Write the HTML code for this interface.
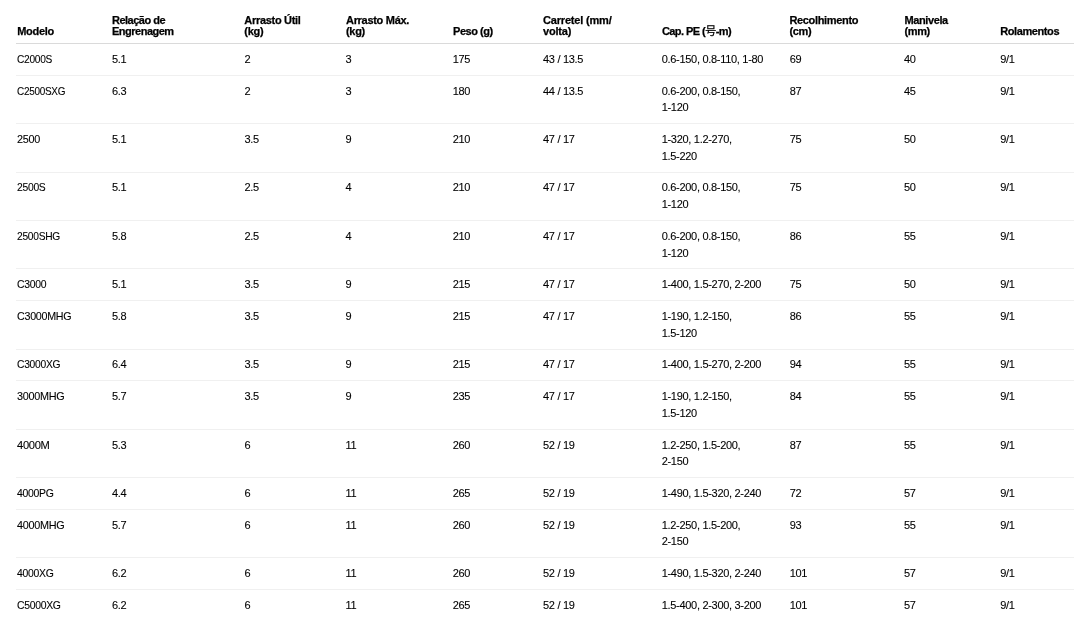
<!DOCTYPE html>
<html lang="pt"><head><meta charset="utf-8"><title>Especificações</title>
<style>
html,body{margin:0;padding:0;background:#fff;}
body{width:1074px;height:620px;overflow:hidden;position:relative;font-family:"Liberation Sans","Noto Sans CJK KR",sans-serif;color:#000;}
.t{position:absolute;left:0;top:0;width:1074px;height:620px;transform:translateZ(0);}
.hl{position:absolute;left:16px;right:0;height:1px;background:#dadada;}
.rl{position:absolute;left:16px;right:0;height:1px;background:#f0f0f0;}
.h{position:absolute;font-size:11px;font-weight:bold;line-height:11px;white-space:nowrap;color:#000;-webkit-text-stroke:0.25px #000;}
.c{position:absolute;font-size:11px;line-height:16px;white-space:nowrap;letter-spacing:-0.3px;-webkit-text-stroke:0.1px #000;}
.c.l2{line-height:17px;}
.s{display:inline-block;transform-origin:0 0;}
.cjk{font-weight:normal;}
</style></head><body>
<div class="t" role="table">
<div class="h" role="columnheader" style="left:17.2px;top:26px;letter-spacing:-0.3px">Modelo</div>
<div class="h" role="columnheader" style="left:112px;top:15px;letter-spacing:-0.5px">Relação de<br>Engrenagem</div>
<div class="h" role="columnheader" style="left:244.3px;top:15px;letter-spacing:-0.3px">Arrasto Útil<br>(kg)</div>
<div class="h" role="columnheader" style="left:346px;top:15px;letter-spacing:-0.3px">Arrasto Máx.<br>(kg)</div>
<div class="h" role="columnheader" style="left:453px;top:26px;letter-spacing:-0.45px">Peso (g)</div>
<div class="h" role="columnheader" style="left:543px;top:15px;letter-spacing:-0.18px">Carretel (mm/<br>volta)</div>
<div class="h" role="columnheader" style="left:661.9px;top:26px;letter-spacing:-0.55px">Cap. PE (<span class="cjk">号</span>-m)</div>
<div class="h" role="columnheader" style="left:789.4px;top:15px;letter-spacing:-0.33px">Recolhimento<br>(cm)</div>
<div class="h" role="columnheader" style="left:904.5px;top:15px;letter-spacing:-0.4px">Manivela<br>(mm)</div>
<div class="h" role="columnheader" style="left:1000.2px;top:26px;letter-spacing:-0.4px">Rolamentos</div>
<div class="hl" style="top:43px"></div>
<div class="c" role="cell" style="left:17.1px;top:51px"><span class="s" style="transform:scaleX(0.925)">C2000S</span></div>
<div class="c" role="cell" style="left:111.9px;top:51px">5.1</div>
<div class="c" role="cell" style="left:244.4px;top:51px">2</div>
<div class="c" role="cell" style="left:345.4px;top:51px">3</div>
<div class="c" role="cell" style="left:452.7px;top:51px">175</div>
<div class="c" role="cell" style="left:543px;top:51px">43 / 13.5</div>
<div class="c" role="cell" style="left:661.7px;top:51px">0.6-150, 0.8-110, 1-80</div>
<div class="c" role="cell" style="left:789.7px;top:51px">69</div>
<div class="c" role="cell" style="left:904px;top:51px">40</div>
<div class="c" role="cell" style="left:1000.3px;top:51px">9/1</div>
<div class="rl" style="top:75px"></div>
<div class="c" role="cell" style="left:17.1px;top:83px"><span class="s" style="transform:scaleX(0.905)">C2500SXG</span></div>
<div class="c" role="cell" style="left:111.9px;top:83px">6.3</div>
<div class="c" role="cell" style="left:244.4px;top:83px">2</div>
<div class="c" role="cell" style="left:345.4px;top:83px">3</div>
<div class="c" role="cell" style="left:452.7px;top:83px">180</div>
<div class="c" role="cell" style="left:543px;top:83px">44 / 13.5</div>
<div class="c" role="cell" style="left:661.7px;top:83px">0.6-200, 0.8-150,<br>1-120</div>
<div class="c" role="cell" style="left:789.7px;top:83px">87</div>
<div class="c" role="cell" style="left:904px;top:83px">45</div>
<div class="c" role="cell" style="left:1000.3px;top:83px">9/1</div>
<div class="rl" style="top:123px"></div>
<div class="c" role="cell" style="left:17.1px;top:131px"><span class="s" style="transform:scaleX(0.985)">2500</span></div>
<div class="c" role="cell" style="left:111.9px;top:131px">5.1</div>
<div class="c" role="cell" style="left:244.4px;top:131px">3.5</div>
<div class="c" role="cell" style="left:345.4px;top:131px">9</div>
<div class="c" role="cell" style="left:452.7px;top:131px">210</div>
<div class="c" role="cell" style="left:543px;top:131px">47 / 17</div>
<div class="c l2" role="cell" style="left:661.7px;top:131px">1-320, 1.2-270,<br>1.5-220</div>
<div class="c" role="cell" style="left:789.7px;top:131px">75</div>
<div class="c" role="cell" style="left:904px;top:131px">50</div>
<div class="c" role="cell" style="left:1000.3px;top:131px">9/1</div>
<div class="rl" style="top:172px"></div>
<div class="c" role="cell" style="left:17.1px;top:179px"><span class="s" style="transform:scaleX(0.94)">2500S</span></div>
<div class="c" role="cell" style="left:111.9px;top:179px">5.1</div>
<div class="c" role="cell" style="left:244.4px;top:179px">2.5</div>
<div class="c" role="cell" style="left:345.4px;top:179px">4</div>
<div class="c" role="cell" style="left:452.7px;top:179px">210</div>
<div class="c" role="cell" style="left:543px;top:179px">47 / 17</div>
<div class="c l2" role="cell" style="left:661.7px;top:179px">0.6-200, 0.8-150,<br>1-120</div>
<div class="c" role="cell" style="left:789.7px;top:179px">75</div>
<div class="c" role="cell" style="left:904px;top:179px">50</div>
<div class="c" role="cell" style="left:1000.3px;top:179px">9/1</div>
<div class="rl" style="top:220px"></div>
<div class="c" role="cell" style="left:17.1px;top:228px"><span class="s" style="transform:scaleX(0.93)">2500SHG</span></div>
<div class="c" role="cell" style="left:111.9px;top:228px">5.8</div>
<div class="c" role="cell" style="left:244.4px;top:228px">2.5</div>
<div class="c" role="cell" style="left:345.4px;top:228px">4</div>
<div class="c" role="cell" style="left:452.7px;top:228px">210</div>
<div class="c" role="cell" style="left:543px;top:228px">47 / 17</div>
<div class="c l2" role="cell" style="left:661.7px;top:228px">0.6-200, 0.8-150,<br>1-120</div>
<div class="c" role="cell" style="left:789.7px;top:228px">86</div>
<div class="c" role="cell" style="left:904px;top:228px">55</div>
<div class="c" role="cell" style="left:1000.3px;top:228px">9/1</div>
<div class="rl" style="top:268px"></div>
<div class="c" role="cell" style="left:17.1px;top:276px"><span class="s" style="transform:scaleX(0.945)">C3000</span></div>
<div class="c" role="cell" style="left:111.9px;top:276px">5.1</div>
<div class="c" role="cell" style="left:244.4px;top:276px">3.5</div>
<div class="c" role="cell" style="left:345.4px;top:276px">9</div>
<div class="c" role="cell" style="left:452.7px;top:276px">215</div>
<div class="c" role="cell" style="left:543px;top:276px">47 / 17</div>
<div class="c" role="cell" style="left:661.7px;top:276px">1-400, 1.5-270, 2-200</div>
<div class="c" role="cell" style="left:789.7px;top:276px">75</div>
<div class="c" role="cell" style="left:904px;top:276px">50</div>
<div class="c" role="cell" style="left:1000.3px;top:276px">9/1</div>
<div class="rl" style="top:300px"></div>
<div class="c" role="cell" style="left:17.1px;top:308px"><span class="s" style="transform:scaleX(0.975)">C3000MHG</span></div>
<div class="c" role="cell" style="left:111.9px;top:308px">5.8</div>
<div class="c" role="cell" style="left:244.4px;top:308px">3.5</div>
<div class="c" role="cell" style="left:345.4px;top:308px">9</div>
<div class="c" role="cell" style="left:452.7px;top:308px">215</div>
<div class="c" role="cell" style="left:543px;top:308px">47 / 17</div>
<div class="c l2" role="cell" style="left:661.7px;top:308px">1-190, 1.2-150,<br>1.5-120</div>
<div class="c" role="cell" style="left:789.7px;top:308px">86</div>
<div class="c" role="cell" style="left:904px;top:308px">55</div>
<div class="c" role="cell" style="left:1000.3px;top:308px">9/1</div>
<div class="rl" style="top:349px"></div>
<div class="c" role="cell" style="left:17.1px;top:356px"><span class="s" style="transform:scaleX(0.935)">C3000XG</span></div>
<div class="c" role="cell" style="left:111.9px;top:356px">6.4</div>
<div class="c" role="cell" style="left:244.4px;top:356px">3.5</div>
<div class="c" role="cell" style="left:345.4px;top:356px">9</div>
<div class="c" role="cell" style="left:452.7px;top:356px">215</div>
<div class="c" role="cell" style="left:543px;top:356px">47 / 17</div>
<div class="c" role="cell" style="left:661.7px;top:356px">1-400, 1.5-270, 2-200</div>
<div class="c" role="cell" style="left:789.7px;top:356px">94</div>
<div class="c" role="cell" style="left:904px;top:356px">55</div>
<div class="c" role="cell" style="left:1000.3px;top:356px">9/1</div>
<div class="rl" style="top:380px"></div>
<div class="c" role="cell" style="left:17.1px;top:388px"><span class="s" style="transform:scaleX(0.985)">3000MHG</span></div>
<div class="c" role="cell" style="left:111.9px;top:388px">5.7</div>
<div class="c" role="cell" style="left:244.4px;top:388px">3.5</div>
<div class="c" role="cell" style="left:345.4px;top:388px">9</div>
<div class="c" role="cell" style="left:452.7px;top:388px">235</div>
<div class="c" role="cell" style="left:543px;top:388px">47 / 17</div>
<div class="c l2" role="cell" style="left:661.7px;top:388px">1-190, 1.2-150,<br>1.5-120</div>
<div class="c" role="cell" style="left:789.7px;top:388px">84</div>
<div class="c" role="cell" style="left:904px;top:388px">55</div>
<div class="c" role="cell" style="left:1000.3px;top:388px">9/1</div>
<div class="rl" style="top:429px"></div>
<div class="c" role="cell" style="left:17.1px;top:437px"><span class="s" style="transform:scaleX(1.012)">4000M</span></div>
<div class="c" role="cell" style="left:111.9px;top:437px">5.3</div>
<div class="c" role="cell" style="left:244.4px;top:437px">6</div>
<div class="c" role="cell" style="left:345.4px;top:437px">11</div>
<div class="c" role="cell" style="left:452.7px;top:437px">260</div>
<div class="c" role="cell" style="left:543px;top:437px">52 / 19</div>
<div class="c" role="cell" style="left:661.7px;top:437px">1.2-250, 1.5-200,<br>2-150</div>
<div class="c" role="cell" style="left:789.7px;top:437px">87</div>
<div class="c" role="cell" style="left:904px;top:437px">55</div>
<div class="c" role="cell" style="left:1000.3px;top:437px">9/1</div>
<div class="rl" style="top:477px"></div>
<div class="c" role="cell" style="left:17.1px;top:485px"><span class="s" style="transform:scaleX(0.95)">4000PG</span></div>
<div class="c" role="cell" style="left:111.9px;top:485px">4.4</div>
<div class="c" role="cell" style="left:244.4px;top:485px">6</div>
<div class="c" role="cell" style="left:345.4px;top:485px">11</div>
<div class="c" role="cell" style="left:452.7px;top:485px">265</div>
<div class="c" role="cell" style="left:543px;top:485px">52 / 19</div>
<div class="c" role="cell" style="left:661.7px;top:485px">1-490, 1.5-320, 2-240</div>
<div class="c" role="cell" style="left:789.7px;top:485px">72</div>
<div class="c" role="cell" style="left:904px;top:485px">57</div>
<div class="c" role="cell" style="left:1000.3px;top:485px">9/1</div>
<div class="rl" style="top:509px"></div>
<div class="c" role="cell" style="left:17.1px;top:517px"><span class="s" style="transform:scaleX(0.985)">4000MHG</span></div>
<div class="c" role="cell" style="left:111.9px;top:517px">5.7</div>
<div class="c" role="cell" style="left:244.4px;top:517px">6</div>
<div class="c" role="cell" style="left:345.4px;top:517px">11</div>
<div class="c" role="cell" style="left:452.7px;top:517px">260</div>
<div class="c" role="cell" style="left:543px;top:517px">52 / 19</div>
<div class="c" role="cell" style="left:661.7px;top:517px">1.2-250, 1.5-200,<br>2-150</div>
<div class="c" role="cell" style="left:789.7px;top:517px">93</div>
<div class="c" role="cell" style="left:904px;top:517px">55</div>
<div class="c" role="cell" style="left:1000.3px;top:517px">9/1</div>
<div class="rl" style="top:557px"></div>
<div class="c" role="cell" style="left:17.1px;top:565px"><span class="s" style="transform:scaleX(0.945)">4000XG</span></div>
<div class="c" role="cell" style="left:111.9px;top:565px">6.2</div>
<div class="c" role="cell" style="left:244.4px;top:565px">6</div>
<div class="c" role="cell" style="left:345.4px;top:565px">11</div>
<div class="c" role="cell" style="left:452.7px;top:565px">260</div>
<div class="c" role="cell" style="left:543px;top:565px">52 / 19</div>
<div class="c" role="cell" style="left:661.7px;top:565px">1-490, 1.5-320, 2-240</div>
<div class="c" role="cell" style="left:789.7px;top:565px">101</div>
<div class="c" role="cell" style="left:904px;top:565px">57</div>
<div class="c" role="cell" style="left:1000.3px;top:565px">9/1</div>
<div class="rl" style="top:589px"></div>
<div class="c" role="cell" style="left:17.1px;top:597px"><span class="s" style="transform:scaleX(0.945)">C5000XG</span></div>
<div class="c" role="cell" style="left:111.9px;top:597px">6.2</div>
<div class="c" role="cell" style="left:244.4px;top:597px">6</div>
<div class="c" role="cell" style="left:345.4px;top:597px">11</div>
<div class="c" role="cell" style="left:452.7px;top:597px">265</div>
<div class="c" role="cell" style="left:543px;top:597px">52 / 19</div>
<div class="c" role="cell" style="left:661.7px;top:597px">1.5-400, 2-300, 3-200</div>
<div class="c" role="cell" style="left:789.7px;top:597px">101</div>
<div class="c" role="cell" style="left:904px;top:597px">57</div>
<div class="c" role="cell" style="left:1000.3px;top:597px">9/1</div>
</div></body></html>
